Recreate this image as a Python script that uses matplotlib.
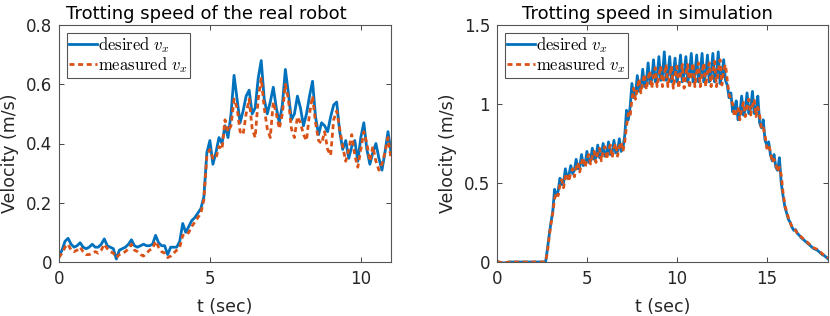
import numpy as np
import matplotlib
matplotlib.use("Agg")
import matplotlib.pyplot as plt
from matplotlib.ticker import FuncFormatter

# ---------------- data: real robot (sampled every 0.1 s) ----------------
dt_real = 0.1
v_des_real = [
    0.02, 0.04, 0.07, 0.08, 0.06, 0.05, 0.055, 0.065, 0.05, 0.045,
    0.05, 0.06, 0.05, 0.05, 0.06, 0.078, 0.055, 0.05, 0.045, 0.01,
    0.04, 0.045, 0.05, 0.06, 0.075, 0.055, 0.05, 0.055, 0.06, 0.055,
    0.055, 0.06, 0.09, 0.065, 0.055, 0.055, 0.025, 0.05, 0.05, 0.05,
    0.07, 0.13, 0.10, 0.12, 0.14, 0.15, 0.165, 0.18, 0.22, 0.37,
    0.41, 0.33, 0.37, 0.42, 0.40, 0.46, 0.42, 0.50, 0.63, 0.55,
    0.47, 0.51, 0.56, 0.58, 0.50, 0.52, 0.62, 0.68, 0.55, 0.50,
    0.54, 0.59, 0.52, 0.47, 0.53, 0.65, 0.57, 0.48, 0.50, 0.56,
    0.52, 0.46, 0.50, 0.56, 0.61, 0.49, 0.43, 0.47, 0.46, 0.44,
    0.49, 0.53, 0.54, 0.44, 0.38, 0.41, 0.35, 0.39, 0.41, 0.34,
    0.42, 0.47, 0.38, 0.33, 0.37, 0.40, 0.35, 0.31, 0.37, 0.44,
    0.37,
]
v_meas_real = [
    0.015, 0.03, 0.05, 0.06, 0.04, 0.035, 0.04, 0.05, 0.035, 0.025,
    0.025, 0.03, 0.035, 0.03, 0.04, 0.06, 0.045, 0.035, 0.03, 0.015,
    0.025, 0.03, 0.035, 0.045, 0.06, 0.04, 0.035, 0.025, 0.02, 0.03,
    0.04, 0.045, 0.07, 0.05, 0.035, 0.03, 0.015, 0.02, 0.03, 0.04,
    0.05, 0.09, 0.09, 0.10, 0.12, 0.135, 0.15, 0.165, 0.21, 0.36,
    0.38, 0.35, 0.35, 0.39, 0.38, 0.48, 0.44, 0.46, 0.55, 0.52,
    0.44, 0.43, 0.50, 0.55, 0.45, 0.42, 0.55, 0.62, 0.52, 0.45,
    0.42, 0.54, 0.50, 0.45, 0.50, 0.60, 0.55, 0.45, 0.42, 0.49,
    0.47, 0.43, 0.41, 0.50, 0.56, 0.47, 0.41, 0.40, 0.44, 0.38,
    0.36, 0.48, 0.51, 0.45, 0.39, 0.34, 0.38, 0.43, 0.36, 0.32,
    0.38, 0.44, 0.40, 0.34, 0.39, 0.34, 0.31, 0.33, 0.37, 0.42,
    0.35,
]

# ---------------- data: simulation (sampled every 0.1 s) ----------------
dt_sim = 0.1
v_des_sim = [
    0.003, 0.0, -0.003, -0.005, -0.006, -0.004, -0.002, 0.0, 0.0, 0.0,
    0.0, 0.0, 0.0, 0.0, 0.0, 0.0, 0.0, 0.0, 0.0, 0.0,
    0.0, 0.0, 0.0, 0.0, 0.0, 0.0, 0.0, 0.0, 0.08, 0.17,
    0.25, 0.32, 0.46, 0.42, 0.45, 0.53, 0.49, 0.50, 0.59, 0.53,
    0.55, 0.61, 0.56, 0.58, 0.65, 0.59, 0.60, 0.68, 0.61, 0.62,
    0.70, 0.63, 0.64, 0.72, 0.65, 0.66, 0.74, 0.66, 0.67, 0.75,
    0.67, 0.68, 0.76, 0.68, 0.69, 0.77, 0.69, 0.70, 0.78, 0.70,
    0.72, 0.80, 0.96, 0.90, 0.98, 1.13, 1.04, 1.06, 1.18, 1.08,
    1.10, 1.22, 1.11, 1.13, 1.26, 1.13, 1.15, 1.28, 1.14, 1.17,
    1.30, 1.15, 1.18, 1.33, 1.15, 1.18, 1.30, 1.14, 1.19, 1.29,
    1.14, 1.19, 1.31, 1.14, 1.19, 1.30, 1.14, 1.19, 1.32, 1.14,
    1.19, 1.31, 1.14, 1.19, 1.32, 1.14, 1.19, 1.31, 1.14, 1.19,
    1.32, 1.14, 1.19, 1.33, 1.13, 1.18, 1.28, 1.15, 1.12, 1.04,
    1.07, 0.95, 0.97, 1.02, 0.90, 0.94, 1.05, 0.93, 0.96, 1.07,
    0.94, 0.97, 1.08, 0.94, 0.96, 1.05, 0.88, 0.85, 0.90, 0.77,
    0.74, 0.76, 0.68, 0.64, 0.68, 0.60, 0.58, 0.66, 0.50, 0.42,
    0.35, 0.31, 0.27, 0.25, 0.22, 0.20, 0.205, 0.18, 0.17, 0.155,
    0.145, 0.135, 0.125, 0.115, 0.105, 0.095, 0.085, 0.08, 0.075, 0.065,
    0.055, 0.045, 0.04, 0.03, 0.02,
]
v_meas_sim = [
    0.002, 0.0, -0.002, -0.004, -0.005, -0.003, -0.001, 0.0, 0.0, 0.0,
    0.0, 0.0, 0.0, 0.0, 0.0, 0.0, 0.0, 0.0, 0.0, 0.0,
    0.0, 0.0, 0.0, 0.0, 0.0, 0.0, 0.0, 0.0, 0.06, 0.16,
    0.24, 0.31, 0.40, 0.44, 0.42, 0.49, 0.52, 0.47, 0.54, 0.56,
    0.51, 0.57, 0.59, 0.54, 0.60, 0.63, 0.57, 0.63, 0.66, 0.60,
    0.65, 0.68, 0.62, 0.67, 0.70, 0.63, 0.69, 0.72, 0.64, 0.70,
    0.73, 0.65, 0.71, 0.74, 0.66, 0.72, 0.75, 0.67, 0.73, 0.76,
    0.70, 0.76, 0.86, 0.94, 0.92, 1.03, 1.10, 1.03, 1.10, 1.16,
    1.07, 1.14, 1.19, 1.09, 1.16, 1.21, 1.10, 1.17, 1.23, 1.11,
    1.18, 1.24, 1.11, 1.18, 1.25, 1.11, 1.18, 1.24, 1.10, 1.18,
    1.24, 1.10, 1.19, 1.25, 1.10, 1.19, 1.25, 1.10, 1.20, 1.26,
    1.11, 1.20, 1.26, 1.11, 1.20, 1.26, 1.11, 1.20, 1.26, 1.11,
    1.21, 1.27, 1.11, 1.21, 1.28, 1.12, 1.22, 1.25, 1.15, 1.06,
    1.03, 1.00, 0.92, 0.95, 0.98, 0.90, 0.97, 1.01, 0.92, 0.99,
    1.03, 0.93, 0.99, 1.03, 0.92, 0.98, 0.93, 0.84, 0.85, 0.80,
    0.72, 0.74, 0.70, 0.63, 0.65, 0.62, 0.57, 0.60, 0.55, 0.44,
    0.36, 0.32, 0.28, 0.25, 0.22, 0.21, 0.20, 0.18, 0.17, 0.16,
    0.15, 0.14, 0.13, 0.12, 0.11, 0.10, 0.09, 0.085, 0.08, 0.07,
    0.06, 0.05, 0.045, 0.035, 0.025,
]

titles = ["Trotting speed of the real robot", "Trotting speed in simulation"]
xlabel = "t (sec)"
ylabel = "Velocity (m/s)"
legend_labels = [r"$\mathrm{desired}\ v_x$", r"$\mathrm{measured}\ v_x$"]
xticks_real = [0, 5, 10]
yticks_real = [0, 0.2, 0.4, 0.6, 0.8]
xticks_sim = [0, 5, 10, 15]
yticks_sim = [0, 0.5, 1, 1.5]

# ---------------- style ----------------
plt.rcParams["font.family"] = ["DejaVu Sans"]
plt.rcParams["mathtext.fontset"] = "cm"
BLUE = "#0072BD"
ORANGE = "#D95319"
AXC = "#262626"

fig = plt.figure(figsize=(8.3, 3.16), dpi=100)
ax1 = fig.add_axes([59 / 830, 54 / 316, 332 / 830, 237 / 316])
ax2 = fig.add_axes([497 / 830, 54 / 316, 331 / 830, 237 / 316])

t_real = np.arange(len(v_des_real)) * dt_real
t_sim = np.arange(len(v_des_sim)) * dt_sim

fmt = FuncFormatter(lambda v, p: "%g" % v)

def style(ax, title, title_x, xt, yt, xlim, ylim):
    ax.set_xlim(*xlim)
    ax.set_ylim(*ylim)
    ax.set_xticks(xt)
    ax.set_yticks(yt)
    ax.xaxis.set_major_formatter(fmt)
    ax.yaxis.set_major_formatter(fmt)
    ax.tick_params(direction="in", length=3.5, width=0.6, top=True, right=True,
                   labelsize=12, colors=AXC)
    ax.tick_params(axis="x", pad=6)
    ax.tick_params(axis="y", pad=5)
    for s in ax.spines.values():
        s.set_color("#555555")
        s.set_linewidth(0.8)
    ax.set_title(title, fontsize=13, color="black", pad=4, x=title_x)
    ax.set_xlabel(xlabel, fontsize=12.5, color=AXC, labelpad=7)
    ax.set_ylabel(ylabel, fontsize=12.5, color=AXC, labelpad=5, y=0.46)
    leg = ax.legend(loc="upper left", fontsize=12, handlelength=1.7,
                    handletextpad=0.05, borderpad=0.15, labelspacing=0.02,
                    fancybox=False, framealpha=1, edgecolor="#555555",
                    borderaxespad=0.45)
    leg.get_frame().set_linewidth(0.8)

for ax, t, vd, vm, title, tx, xt, yt, xlim, ylim in [
    (ax1, t_real, v_des_real, v_meas_real, titles[0], 0.445, xticks_real, yticks_real, (0, 11), (0, 0.8)),
    (ax2, t_sim, v_des_sim, v_meas_sim, titles[1], 0.455, xticks_sim, yticks_sim, (0, 18.4), (0, 1.5)),
]:
    ax.plot(t, vd, color=BLUE, lw=2.0, label=legend_labels[0])
    ax.plot(t, vm, color=ORANGE, lw=2.0, linestyle=(0, (1.8, 1.3)), label=legend_labels[1])
    style(ax, title, tx, xt, yt, xlim, ylim)

fig.savefig("out.png", dpi=100)
